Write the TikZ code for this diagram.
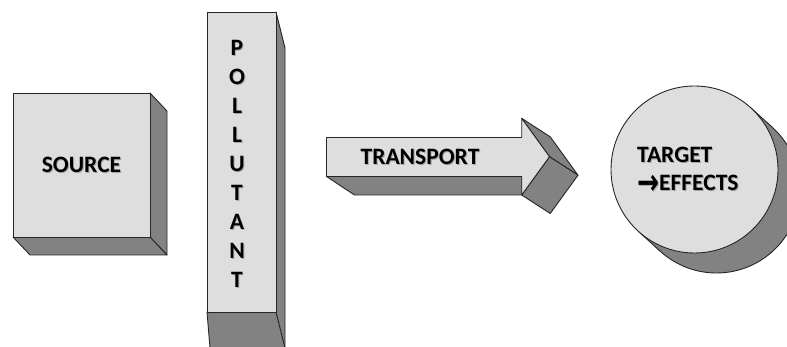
\documentclass[tikz,border=0pt]{standalone}
\usepackage{fontspec}
\usepackage{graphicx}
\setmainfont{Carlito}
\newfontfamily\arrowfont{DejaVu Sans}
\definecolor{facelight}{HTML}{DEDEDE}
\definecolor{facedark}{HTML}{828282}
\definecolor{edgecol}{HTML}{262626}
\newcommand{\shtx}[1]{\makebox[0pt][l]{\kern1pt\raisebox{-1pt}{\color{black!35}#1}}#1}
\newcommand{\bigarr}{\raisebox{-4pt}{\scalebox{1.25}[1.7]{\arrowfont\fontsize{21}{28}\selectfont\bfseries →}}}
\begin{document}
\begin{tikzpicture}[x=1pt,y=-1pt,
  front/.style={fill=facelight,draw=edgecol,line width=0.9pt,line join=round},
  side/.style={fill=facedark,draw=edgecol,line width=0.9pt,line join=round},
  lbl/.style={font=\fontsize{23.5}{28}\selectfont\bfseries,text=black,inner sep=0pt}]
\useasboundingbox (0,0) rectangle (787,347);
\clip (0,0) rectangle (787,347);
% ---------- SOURCE box ----------
\draw[side] (150,93) -- (167,111) -- (167,255) -- (150,237) -- cycle;
\draw[side] (13,237) -- (150,237) -- (167,255) -- (30,255) -- cycle;
\draw[front] (13,93) rectangle (150,237);
\node[lbl] (source) at (81.5,165) {\shtx{SOURCE}};
% ---------- POLLUTANT column ----------
\draw[side] (276,12) -- (285,48) -- (285,360) -- (276,312) -- cycle;
\draw[side] (207,312) -- (276,312) -- (285,348) -- (285,360) -- (211,360) -- cycle;
\draw[front] (207,12) rectangle (276,312);
\foreach \ch [count=\i] in {P,O,L,L,U,T,A,N,T}
  \node[lbl] (p\i) at (237,{48+29*(\i-1)}) {\shtx{\ch}};
% ---------- TRANSPORT arrow ----------
\draw[side] (326.5,176.5) -- (521.7,176.5) -- (521.7,195) -- (354.5,195) -- cycle;
\draw[side] (521.7,118.3) -- (550.2,136.8) -- (578,175.2) -- (549.5,156.7) -- cycle;
\draw[side] (549.5,156.7) -- (578,175.2) -- (550.2,213.5) -- (521.7,195) -- cycle;
\draw[front] (326.5,137.5) -- (521.7,137.5) -- (521.7,118.3) -- (549.5,156.7)
  -- (521.7,195) -- (521.7,176.5) -- (326.5,176.5) -- cycle;
\node[lbl] (transport) at (420,157) {\shtx{TRANSPORT}};
% ---------- TARGET cylinder ----------
\draw[side] (716.5,189.5) circle[radius=83.5];
\fill[facedark] (750.7,107.7) -- (772.7,127.7) -- (660.3,251.3) -- (638.3,231.3) -- cycle;
\draw[edgecol,line width=0.9pt] (750.7,107.7) -- (772.7,127.7);
\draw[edgecol,line width=0.9pt] (638.3,231.3) -- (660.3,251.3);
\draw[front] (694.5,169.5) circle[radius=83.5];
\node[lbl,anchor=west,align=left] (target) at (637,171)
  {\shtx{TARGET}\\\shtx{\bigarr EFFECTS}};
\end{tikzpicture}
\end{document}
